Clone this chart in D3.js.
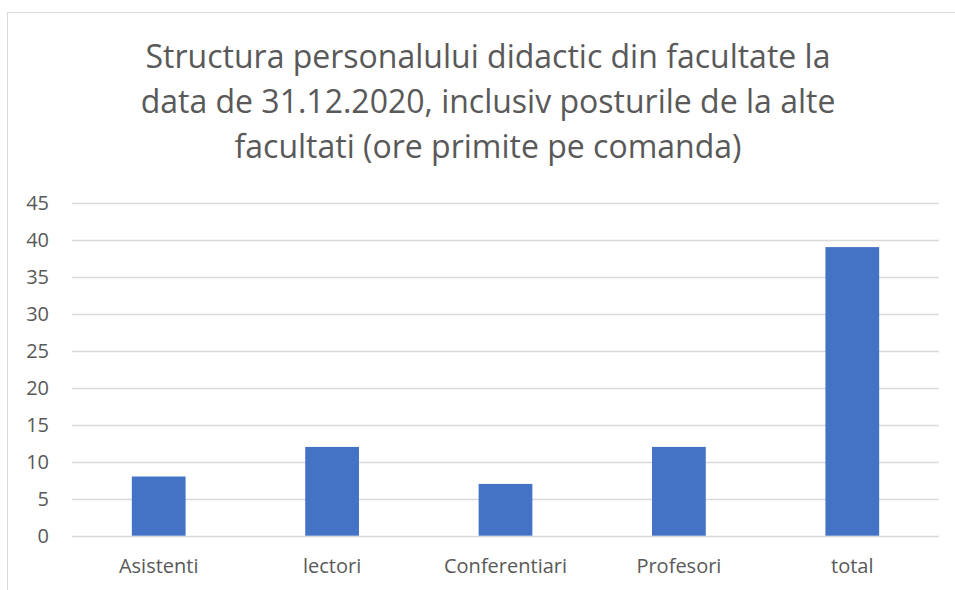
<!DOCTYPE html>
<html>
<head>
<meta charset="utf-8">
<script src="https://cdn.jsdelivr.net/npm/d3@7"></script>
<style>
  body { margin: 0; background: #fff; }
  svg { display: block; }
</style>
</head>
<body>
<script>
const width = 955;
const height = 590;

const categories = ["Asistenti", "lectori", "Conferentiari", "Profesori", "total"];
const values = [8, 12, 7, 12, 39];
const yTicks = [0, 5, 10, 15, 20, 25, 30, 35, 40, 45];
const titleLines = [
  "Structura personalului didactic din facultate la",
  "data de 31.12.2020, inclusiv posturile de la alte",
  "facultati (ore primite pe comanda)"
];

const font = "'Open Sans', 'Liberation Sans', sans-serif";
const textColor = "#595959";

let svg = d3.select("body")
  .append("svg")
    .attr("width", width)
    .attr("height", height);

// chart border (only top and left visible in the crop)
svg.append("path")
  .attr("d", "M7.5," + height + "V12.5H" + width)
  .attr("fill", "none")
  .attr("stroke", "#d9d9d9")
  .attr("stroke-width", 1);

let x = d3.scaleBand()
  .domain(categories)
  .range([72, 939])
  .paddingInner(0.69)
  .paddingOuter(0.345);

let y = d3.scaleLinear()
  .domain([0, 45])
  .range([535.7, 202.7]);

// title
svg.append("g")
  .selectAll("text")
  .data(titleLines)
  .enter()
  .append("text")
    .attr("x", 488)
    .attr("y", (d, i) => 68 + i * 45)
    .attr("text-anchor", "middle")
    .style("font-family", font)
    .style("font-size", "32px")
    .attr("fill", textColor)
    .text(d => d);

// gridlines
svg.append("g")
  .selectAll("line")
  .data(yTicks)
  .enter()
  .append("line")
    .attr("x1", 72)
    .attr("x2", 939)
    .attr("y1", d => Math.round(y(d)) + 0.5)
    .attr("y2", d => Math.round(y(d)) + 0.5)
    .attr("stroke", "#d9d9d9")
    .attr("stroke-width", 1.5);

// y axis labels
let yAxis = svg.append("g")
  .attr("transform", "translate(49,0)")
  .call(d3.axisLeft(y).tickValues(yTicks).tickSize(0).tickPadding(0));
yAxis.select(".domain").remove();
yAxis.selectAll("text")
  .style("font-family", font)
  .style("font-size", "20px")
  .attr("fill", textColor);

// bars
svg.append("g")
  .selectAll("rect")
  .data(values)
  .enter()
  .append("rect")
    .attr("x", (d, i) => x(categories[i]))
    .attr("width", x.bandwidth())
    .attr("y", d => y(d))
    .attr("height", d => y(0) - y(d))
    .attr("fill", "#4472c4");

// x axis labels
let xAxis = svg.append("g")
  .attr("transform", "translate(0," + y(0) + ")")
  .call(d3.axisBottom(x).tickSize(0).tickPadding(23));
xAxis.select(".domain").remove();
xAxis.selectAll("text")
  .style("font-family", font)
  .style("font-size", "20px")
  .attr("fill", textColor);
</script>
</body>
</html>
